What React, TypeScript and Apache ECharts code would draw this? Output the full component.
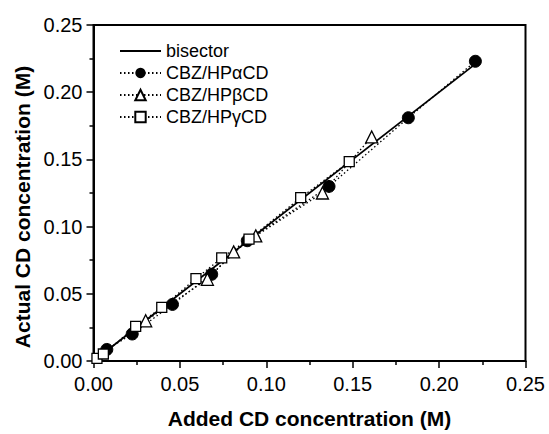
import React, { useEffect, useRef } from "react";
import * as echarts from "echarts";

const bisectorEnds = [0, 0.222];

const alphaX = [0.0077, 0.0224, 0.0457, 0.0684, 0.089, 0.1363, 0.1822, 0.221];
const alphaY = [0.0086, 0.0201, 0.0421, 0.0645, 0.0895, 0.1299, 0.181, 0.223];

const betaX = [0.0302, 0.0659, 0.0811, 0.0939, 0.1325, 0.161];
const betaY = [0.0299, 0.0608, 0.0812, 0.0931, 0.125, 0.1667];

const gammaX = [0.002, 0.0057, 0.0244, 0.0395, 0.0593, 0.0742, 0.09, 0.1199, 0.148];
const gammaY = [0.002, 0.0052, 0.0257, 0.0399, 0.0613, 0.0767, 0.0907, 0.1215, 0.1483];

const axisTicks = [0, 0.05, 0.1, 0.15, 0.2, 0.25];

const FONT = "'Liberation Sans', Arial, Helvetica, sans-serif";

const zip = (xs: number[], ys: number[]) => xs.map((x, i) => [x, ys[i]]);

export default function App() {
  const ref = useRef<HTMLDivElement>(null);
  useEffect(() => {
    if (!ref.current) return;
    const chart = echarts.init(ref.current, undefined, { renderer: "svg" });
    const dotted = { color: "#000", width: 1.3, type: [1.5, 2.5] as any };
    const label = {
      color: "#000",
      fontSize: 20,
      fontFamily: FONT,
      formatter: (v: number) => v.toFixed(2),
    };
    const axisCommon = {
      type: "value" as const,
      min: axisTicks[0],
      max: axisTicks[axisTicks.length - 1],
      interval: 0.05,
      axisLine: { show: true, lineStyle: { color: "#000", width: 2 } },
      axisTick: { show: true, inside: false, length: 7, lineStyle: { color: "#000", width: 1.5 } },
      minorTick: { show: true, splitNumber: 2, length: 4, lineStyle: { color: "#000", width: 1.5 } },
      splitLine: { show: false },
    };
    chart.setOption({
      animation: false,
      backgroundColor: "#fff",
      grid: {
        left: 93.5,
        right: 23.5,
        top: 25,
        bottom: 69,
        show: true,
        borderColor: "#000",
        borderWidth: 2,
        backgroundColor: "transparent",
      },
      xAxis: {
        ...axisCommon,
        name: "Added CD concentration (M)",
        nameLocation: "middle",
        nameGap: 47,
        nameTextStyle: { color: "#000", fontSize: 21, fontWeight: "bold", fontFamily: FONT },
        axisLabel: { ...label, margin: 13 },
      },
      yAxis: {
        ...axisCommon,
        axisLabel: { ...label, margin: 11 },
      },
      legend: {
        orient: "vertical",
        left: 114,
        top: 37,
        itemWidth: 41,
        itemHeight: 13,
        itemGap: 4,
        textStyle: { color: "#000", fontSize: 18, lineHeight: 18, fontFamily: FONT },
        data: [
          {
            name: "bisector",
            itemStyle: { color: "rgba(0,0,0,0)", borderColor: "rgba(0,0,0,0)", borderWidth: 0 },
          },
          "CBZ/HPαCD",
          "CBZ/HPβCD",
          "CBZ/HPγCD",
        ],
      },
      graphic: [
        {
          type: "text",
          x: 22,
          y: 207,
          rotation: Math.PI / 2,
          style: {
            text: "Actual CD concentration (M)",
            fill: "#000",
            font: `bold 21px ${FONT}`,
            align: "center",
            verticalAlign: "middle",
          },
        },
      ],
      series: [
        {
          name: "bisector",
          type: "line",
          data: bisectorEnds.map((v) => [v, v]),
          symbol: "none",
          lineStyle: { color: "#000", width: 1.8 },
          itemStyle: { color: "#000" },
          z: 3,
        },
        {
          name: "CBZ/HPαCD",
          type: "line",
          data: zip(alphaX, alphaY),
          symbol: "circle",
          symbolSize: 12,
          lineStyle: dotted,
          itemStyle: { color: "#000", borderColor: "#000" },
          z: 4,
        },
        {
          name: "CBZ/HPβCD",
          type: "line",
          data: zip(betaX, betaY),
          symbol: "triangle",
          symbolSize: 12,
          lineStyle: dotted,
          itemStyle: { color: "#fff", borderColor: "#000", borderWidth: 1.3 },
          z: 4,
        },
        {
          name: "CBZ/HPγCD",
          type: "line",
          data: zip(gammaX, gammaY),
          symbol: "rect",
          symbolSize: 10,
          lineStyle: dotted,
          itemStyle: { color: "#fff", borderColor: "#000", borderWidth: 1.3 },
          z: 4,
        },
      ],
    });
    return () => chart.dispose();
  }, []);
  return <div ref={ref} style={{ width: 549, height: 434, position: "absolute", left: 0, top: 0 }} />;
}
